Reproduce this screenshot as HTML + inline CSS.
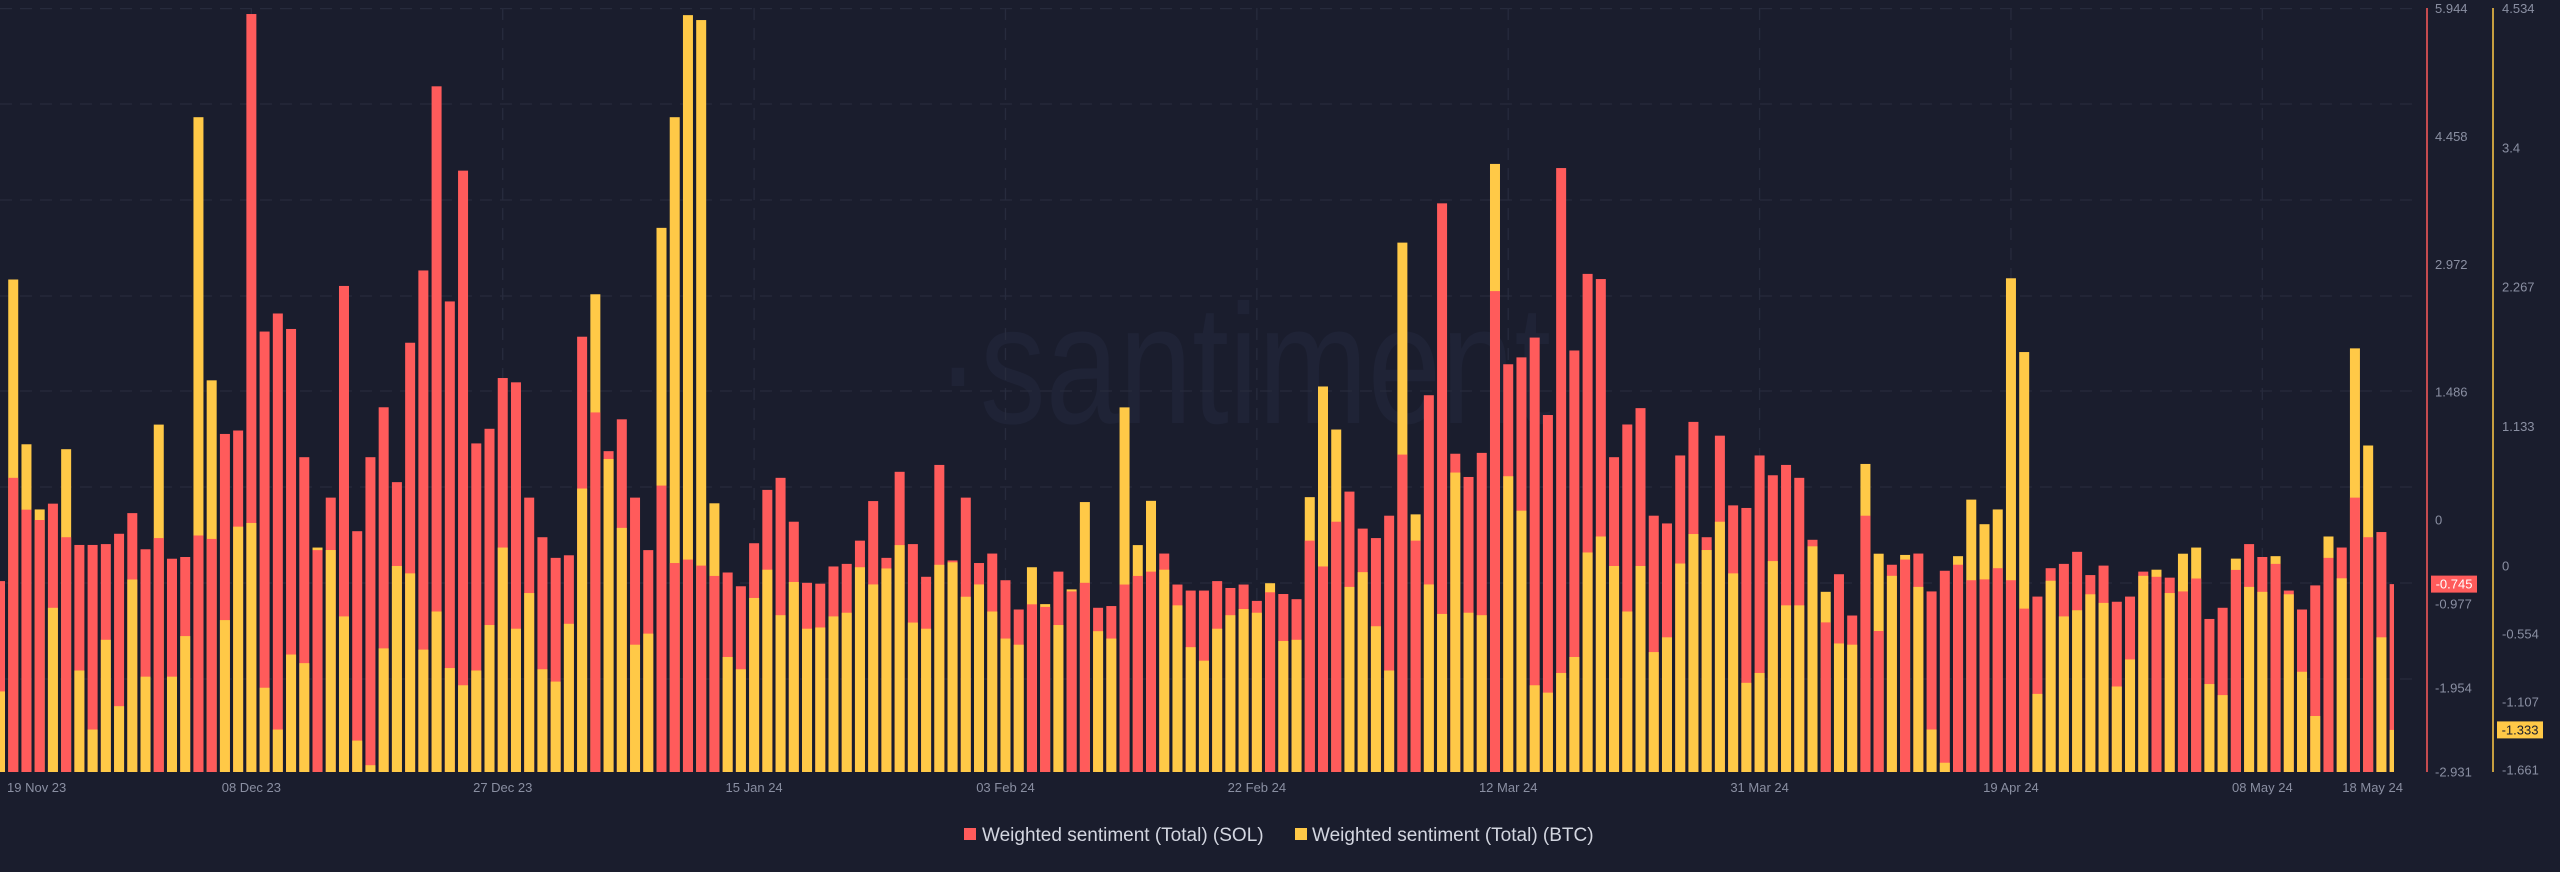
<!DOCTYPE html>
<html>
<head>
<meta charset="utf-8">
<style>
  html,body{margin:0;padding:0;background:#1a1d2d;}
  body{width:2560px;height:867px;overflow:hidden;font-family:"Liberation Sans",Arial,sans-serif;}
  svg text{font-family:"Liberation Sans",Arial,sans-serif;}
</style>
</head>
<body>
<svg id="chart" width="2560" height="867" viewBox="0 0 2560 867" xmlns="http://www.w3.org/2000/svg">
  <rect x="0" y="0" width="2560" height="867" fill="#1a1d2d"/>
  <text x="936" y="423" font-size="170" fill="#1f2336" textLength="615" lengthAdjust="spacingAndGlyphs">·santiment</text>
  <g id="grid"></g>
  <defs><clipPath id="plotclip"><rect x="0" y="0" width="2394" height="780"/></clipPath></defs>
  <g id="bars" clip-path="url(#plotclip)"></g>
  <g id="xaxis"></g>
  <g id="yaxis-sol"></g>
  <g id="yaxis-btc"></g>
  <g>
    <g>
      <rect x="964" y="828" width="12" height="12" fill="#ff5b5b"/>
      <text x="982" y="841" font-size="19" fill="#d3d6e0">Weighted sentiment (Total) (SOL)</text>
    </g>
    <g>
      <rect x="1295" y="828" width="12" height="12" fill="#ffc947"/>
      <text x="1312" y="841" font-size="19" fill="#d3d6e0">Weighted sentiment (Total) (BTC)</text>
    </g>
  </g>
</svg>
<script>
const solValues = [-0.71,0.49,0.12,0.00,0.19,-0.20,-0.29,-0.29,-0.28,-0.16,0.08,-0.34,-0.21,-0.45,-0.43,-0.18,-0.22,1.00,1.04,5.88,
2.19,2.40,2.22,0.73,-0.35,0.26,2.72,-0.13,0.73,1.31,0.44,2.06,2.90,5.04,2.54,4.06,0.89,1.06,1.65,1.60,
0.26,-0.20,-0.44,-0.41,2.13,1.25,0.80,1.17,0.26,-0.35,0.40,-0.50,-0.46,-0.53,-0.65,-0.61,-0.77,-0.27,0.35,0.49,
-0.02,-0.73,-0.74,-0.54,-0.51,-0.24,0.22,-0.44,0.56,-0.28,-0.66,0.64,-0.47,0.26,-0.50,-0.39,-0.70,-1.04,-0.98,-1.01,
-0.60,-0.83,-0.73,-1.02,-1.00,-0.75,-0.65,-0.60,-0.39,-0.75,-0.82,-0.82,-0.71,-0.79,-0.75,-0.94,-0.84,-0.86,-0.92,-0.24,
-0.54,-0.02,0.33,-0.10,-0.21,0.05,0.76,-0.24,1.45,3.68,0.77,0.50,0.78,2.66,1.81,1.89,2.12,1.22,4.09,1.97,
2.86,2.80,0.73,1.11,1.30,0.05,-0.04,0.75,1.14,-0.20,0.98,0.17,0.14,0.75,0.52,0.64,0.49,-0.23,-1.19,-0.63,
-1.11,0.05,-1.29,-0.52,-0.46,-0.39,-0.83,-0.59,-0.52,-0.70,-0.69,-0.56,-0.70,-1.03,-0.89,-0.56,-0.51,-0.37,-0.64,-0.53,
-0.95,-0.89,-0.60,-0.66,-0.67,-0.83,-0.68,-1.15,-1.02,-0.58,-0.28,-0.43,-0.51,-0.82,-1.04,-0.76,-0.44,-0.32,0.26,-0.20,
-0.14,-0.745];
const btcValues = [-1.02,2.33,0.99,0.46,-0.34,0.95,-0.85,-1.33,-0.60,-1.14,-0.11,-0.90,1.15,-0.90,-0.57,3.65,1.51,-0.44,0.32,0.35,
-0.99,-1.33,-0.72,-0.79,0.15,0.13,-0.41,-1.42,-1.62,-0.67,0.00,-0.06,-0.68,-0.37,-0.83,-0.97,-0.85,-0.48,0.15,-0.51,
-0.22,-0.84,-0.94,-0.47,0.63,2.21,0.87,0.31,-0.64,-0.55,2.75,3.65,4.48,4.44,0.51,-0.74,-0.84,-0.26,-0.03,-0.40,
-0.13,-0.51,-0.50,-0.41,-0.38,-0.01,-0.15,-0.02,0.17,-0.46,-0.51,0.01,0.03,-0.25,-0.15,-0.37,-0.59,-0.64,-0.01,-0.31,
-0.48,-0.19,0.52,-0.53,-0.59,1.29,0.17,0.53,-0.03,-0.32,-0.66,-0.77,-0.51,-0.40,-0.35,-0.38,-0.14,-0.61,-0.60,0.56,
1.46,1.11,-0.17,-0.05,-0.49,-0.85,2.63,0.42,-0.15,-0.39,0.76,-0.38,-0.40,3.27,0.73,0.45,-0.97,-1.03,-0.87,-0.74,
0.11,0.24,0.00,-0.37,0.00,-0.70,-0.58,0.02,0.26,0.13,0.36,-0.06,-0.95,-0.87,0.04,-0.32,-0.32,0.16,-0.21,-0.63,
-0.64,0.83,0.10,-0.08,0.09,-0.17,-1.33,-1.60,0.08,0.54,0.34,0.46,2.34,1.74,-1.04,-0.12,-0.41,-0.36,-0.23,-0.30,
-0.98,-0.76,-0.08,-0.03,-0.22,0.10,0.15,-0.96,-1.05,0.06,-0.17,-0.21,0.08,-0.23,-0.86,-1.22,0.24,-0.10,1.77,0.98,
-0.58,-1.333];
const tickIndex = [0,19,38,57,76,95,114,133,152,171,181];
const tickLabels = ["19 Nov 23","08 Dec 23","27 Dec 23","15 Jan 24","03 Feb 24","22 Feb 24","12 Mar 24","31 Mar 24","19 Apr 24","08 May 24","18 May 24"];
const solTicks = [5.944,4.458,2.972,1.486,0,-0.977,-1.954,-2.931];
const btcTicks = [4.534,3.4,2.267,1.133,0,-0.554,-1.107,-1.661];

const NS = "http://www.w3.org/2000/svg";
const PITCH = 13.23, BW = 10, BOTTOM = 772;
function xPos(i){ return i * PITCH; }
function ySol(v){ return 520 - v * 86.05; }
function yBtc(v){ return 566 - v * 122.96; }
function mk(tag, attrs){ const e = document.createElementNS(NS, tag); for (const k in attrs) e.setAttribute(k, attrs[k]); return e; }

const grid = document.getElementById('grid');
[8.6,104,200,296,391,487,583,679].forEach(y => {
  const l = mk('line', {x1:0, x2:2420, y1:y, y2:y, stroke:'#272b3d', 'stroke-width':1.3, 'stroke-dasharray':'12 8'});
  
  
  grid.appendChild(l);
});
tickIndex.slice(1, 10).forEach(i => {
  const l = mk('line', {x1:xPos(i), x2:xPos(i), y1:8, y2:BOTTOM, stroke:'#272b3d', 'stroke-width':1.3, 'stroke-dasharray':'12 8'});
  
  
  grid.appendChild(l);
});

const bars = document.getElementById('bars');
for (let i = 0; i < solValues.length; i++) {
  const ys = ySol(solValues[i]), yb = yBtc(btcValues[i]);
  const s = mk('rect', {x:xPos(i)-BW/2, y:ys, width:BW, height:Math.max(0, BOTTOM-ys), fill:'#ff5b5b'});
  
  
  const b = mk('rect', {x:xPos(i)-BW/2, y:yb, width:BW, height:Math.max(0, BOTTOM-yb), fill:'#ffc947'});
  
  
  if (ys < yb) { bars.appendChild(s); bars.appendChild(b); } else { bars.appendChild(b); bars.appendChild(s); }
}

const xaxis = document.getElementById('xaxis');
tickIndex.forEach((i, n) => {
  let anchor = 'middle', x = xPos(i);
  if (n === 0) { anchor = 'start'; x = 7; }
  if (n === tickIndex.length - 1) { anchor = 'end'; x = 2403; }
  const t = mk('text', {x:x, y:792, 'font-size':13, fill:'#8a8fa2', 'text-anchor':anchor});
  t.textContent = tickLabels[n];
  
  
  xaxis.appendChild(t);
});

const ya = document.getElementById('yaxis-sol');
const la = mk('line', {x1:2427, x2:2427, y1:8, y2:772, stroke:'#ff5b5b', 'stroke-width':1.5});


ya.appendChild(la);
solTicks.forEach(v => {
  const t = mk('text', {x:2435, y:ySol(v)+4.5, 'font-size':13, fill:'#8a8fa2'});
  t.textContent = String(v);
  
  
  ya.appendChild(t);
});
const yb2 = document.getElementById('yaxis-btc');
const lb = mk('line', {x1:2493, x2:2493, y1:8, y2:772, stroke:'#ffc947', 'stroke-width':1.5});


yb2.appendChild(lb);
btcTicks.forEach(v => {
  const t = mk('text', {x:2502, y:yBtc(v)+4.5, 'font-size':13, fill:'#8a8fa2'});
  t.textContent = String(v);
  
  
  yb2.appendChild(t);
});

const lastSol = solValues[solValues.length-1], lastBtc = btcValues[btcValues.length-1];
const sb = mk('rect', {x:2431, y:ySol(lastSol)-8.5, width:46, height:17, fill:'#ff5b5b'});


ya.appendChild(sb);
const st = mk('text', {x:2454, y:ySol(lastSol)+4.5, 'font-size':13, fill:'#ffffff', 'text-anchor':'middle'});
st.textContent = lastSol.toFixed(3);


ya.appendChild(st);
const bb = mk('rect', {x:2497, y:yBtc(lastBtc)-8.5, width:46, height:17, fill:'#ffc947'});


yb2.appendChild(bb);
const bt = mk('text', {x:2520, y:yBtc(lastBtc)+4.5, 'font-size':13, fill:'#1a1d2d', 'text-anchor':'middle'});
bt.textContent = lastBtc.toFixed(3);


yb2.appendChild(bt);
</script>
</body>
</html>
